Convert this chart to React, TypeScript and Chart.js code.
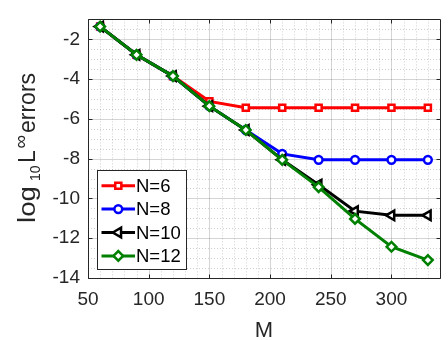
import React, { useEffect, useRef } from 'react';
import { Chart, registerables } from 'chart.js';
import { drawPoint } from 'chart.js/helpers';

Chart.register(...registerables);

// Grid size M and log10 of the max-norm error for each expansion order N
const M_VALUES = [60, 90, 120, 150, 180, 210, 240, 270, 300, 330];
const ERR_N6 = [-1.36, -2.78, -3.85, -5.12, -5.44, -5.44, -5.44, -5.44, -5.44, -5.44];
const ERR_N8 = [-1.36, -2.78, -3.85, -5.36, -6.56, -7.76, -8.06, -8.06, -8.06, -8.06];
const ERR_N10 = [-1.36, -2.78, -3.85, -5.36, -6.56, -8.06, -9.31, -10.64, -10.85, -10.85];
const ERR_N12 = [-1.36, -2.78, -3.85, -5.36, -6.56, -8.06, -9.43, -11.03, -12.43, -13.1];

const SERIES_LABELS = ['N=6', 'N=8', 'N=10', 'N=12'];
const X_TICKS = [50, 100, 150, 200, 250, 300];
const Y_TICKS = [-14, -12, -10, -8, -6, -4, -2];
const X_RANGE = [50, 340];
const Y_RANGE = [-14, -1];
const X_MINOR_STEP = 10;
const Y_MINOR_STEP = 0.5;

const FONT = '"Liberation Sans", Arial, Helvetica, sans-serif';
const AXIS_COLOR = '#262626';

type Marker = { style: string; radius: number; rotation: number };
const SERIES_STYLE: { color: string; marker: Marker }[] = [
  { color: '#ff0000', marker: { style: 'rect', radius: 4.3, rotation: 0 } },
  { color: '#0000ff', marker: { style: 'circle', radius: 3.9, rotation: 0 } },
  { color: '#000000', marker: { style: 'triangle', radius: 5.5, rotation: -90 } },
  { color: '#008000', marker: { style: 'rectRot', radius: 4.8, rotation: 0 } },
];
const SERIES_DATA = [ERR_N6, ERR_N8, ERR_N10, ERR_N12];

function drawText(
  ctx: CanvasRenderingContext2D,
  text: string,
  size: number,
  x: number,
  y: number,
  stretch = 1,
) {
  ctx.save();
  ctx.font = `${size}px ${FONT}`;
  ctx.translate(x, y);
  ctx.scale(stretch, 1);
  ctx.fillText(text, 0, 0);
  ctx.restore();
}

const framePlugin = {
  id: 'matlabFrame',
  beforeDatasetsDraw(chart: any) {
    const { ctx, chartArea: a, scales } = chart;
    const xs = scales.x;
    const ys = scales.y;
    ctx.save();
    ctx.lineWidth = 1;

    // dotted minor grid
    ctx.strokeStyle = 'rgba(38,38,38,0.22)';
    ctx.setLineDash([1, 2]);
    ctx.beginPath();
    const nx = Math.round((X_RANGE[1] - X_RANGE[0]) / X_MINOR_STEP);
    for (let i = 1; i < nx; i++) {
      const v = X_RANGE[0] + i * X_MINOR_STEP;
      if (X_TICKS.includes(v)) continue;
      const px = Math.round(xs.getPixelForValue(v)) + 0.5;
      ctx.moveTo(px, a.top);
      ctx.lineTo(px, a.bottom);
    }
    const ny = Math.round((Y_RANGE[1] - Y_RANGE[0]) / Y_MINOR_STEP);
    for (let i = 1; i < ny; i++) {
      const v = Y_RANGE[0] + i * Y_MINOR_STEP;
      if (Y_TICKS.includes(v)) continue;
      const py = Math.round(ys.getPixelForValue(v)) + 0.5;
      ctx.moveTo(a.left, py);
      ctx.lineTo(a.right, py);
    }
    ctx.stroke();

    // solid major grid
    ctx.setLineDash([]);
    ctx.strokeStyle = 'rgba(38,38,38,0.2)';
    ctx.beginPath();
    X_TICKS.forEach((v) => {
      const px = Math.round(xs.getPixelForValue(v)) + 0.5;
      ctx.moveTo(px, a.top);
      ctx.lineTo(px, a.bottom);
    });
    Y_TICKS.forEach((v) => {
      const py = Math.round(ys.getPixelForValue(v)) + 0.5;
      ctx.moveTo(a.left, py);
      ctx.lineTo(a.right, py);
    });
    ctx.stroke();
    ctx.restore();
  },
  afterDatasetsDraw(chart: any) {
    const { ctx, chartArea: a, scales } = chart;
    const xs = scales.x;
    const ys = scales.y;
    const L = Math.round(a.left) + 0.5;
    const R = Math.round(a.right) + 0.5;
    const T = Math.round(a.top) + 0.5;
    const B = Math.round(a.bottom) + 0.5;
    const tick = 4;

    ctx.save();
    // axes box with inward ticks on all sides
    ctx.strokeStyle = AXIS_COLOR;
    ctx.lineWidth = 1;
    ctx.beginPath();
    ctx.rect(L, T, R - L, B - T);
    X_TICKS.forEach((v) => {
      const px = Math.round(xs.getPixelForValue(v)) + 0.5;
      ctx.moveTo(px, B);
      ctx.lineTo(px, B - tick);
      ctx.moveTo(px, T);
      ctx.lineTo(px, T + tick);
    });
    Y_TICKS.forEach((v) => {
      const py = Math.round(ys.getPixelForValue(v)) + 0.5;
      ctx.moveTo(L, py);
      ctx.lineTo(L + tick, py);
      ctx.moveTo(R, py);
      ctx.lineTo(R - tick, py);
    });
    ctx.stroke();

    // legend box
    const lx = 97.5;
    const ly = 170.5;
    const lw = 89;
    const lh = 99;
    ctx.fillStyle = '#ffffff';
    ctx.fillRect(lx, ly, lw, lh);
    ctx.strokeStyle = AXIS_COLOR;
    ctx.strokeRect(lx, ly, lw, lh);
    SERIES_LABELS.forEach((label, i) => {
      const st = SERIES_STYLE[i];
      const cy = 185.7 + i * 23.4;
      ctx.strokeStyle = st.color;
      ctx.lineWidth = 3;
      ctx.beginPath();
      ctx.moveTo(101.5, cy);
      ctx.lineTo(135, cy);
      ctx.stroke();
      ctx.fillStyle = '#ffffff';
      ctx.lineWidth = 2.5;
      drawPoint(
        ctx,
        {
          pointStyle: st.marker.style as any,
          radius: st.marker.radius,
          rotation: st.marker.rotation,
          borderWidth: 2.5,
        } as any,
        118.3,
        cy,
      );
      ctx.fillStyle = '#000000';
      ctx.textBaseline = 'middle';
      ctx.textAlign = 'left';
      ctx.font = `18.5px ${FONT}`;
      ctx.fillText(label, 136, cy + 1);
    });

    // x-axis title
    ctx.fillStyle = AXIS_COLOR;
    ctx.textAlign = 'center';
    ctx.textBaseline = 'alphabetic';
    ctx.font = `22px ${FONT}`;
    ctx.fillText('M', (a.left + a.right) / 2, 337);

    // y-axis title: log_{10} L^{\infty} errors, rotated
    ctx.save();
    ctx.translate(35, 0);
    ctx.rotate(-Math.PI / 2);
    ctx.textAlign = 'left';
    ctx.textBaseline = 'alphabetic';
    drawText(ctx, 'log', 23, -223, 0, 1.2);
    drawText(ctx, '10', 14, -181, 5);
    drawText(ctx, 'L', 23, -163, 0);
    drawText(ctx, '\u221E', 19, -148.5, -8);
    drawText(ctx, 'errors', 23, -133, 0);
    ctx.restore();

    ctx.restore();
  },
};

export default function App() {
  const canvasRef = useRef<HTMLCanvasElement | null>(null);

  useEffect(() => {
    const canvas = canvasRef.current;
    if (!canvas) return;

    const datasets = SERIES_LABELS.map((label, i) => {
      const st = SERIES_STYLE[i];
      return {
        label,
        data: M_VALUES.map((m, j) => ({ x: m, y: SERIES_DATA[i][j] })),
        borderColor: st.color,
        backgroundColor: st.color,
        borderWidth: 3,
        pointStyle: st.marker.style,
        pointRadius: st.marker.radius,
        pointRotation: st.marker.rotation,
        pointBorderWidth: 2.5,
        pointBorderColor: st.color,
        pointBackgroundColor: '#ffffff',
        tension: 0,
        clip: false as any,
        // later series drawn on top
        order: SERIES_LABELS.length - i,
      };
    });

    const chart = new Chart(canvas, {
      type: 'line',
      data: { datasets: datasets as any },
      options: {
        animation: false,
        responsive: false,
        events: [],
        layout: { padding: { left: 0, right: 2, top: 6, bottom: 0 } },
        plugins: {
          legend: { display: false },
          tooltip: { enabled: false },
        },
        scales: {
          x: {
            type: 'linear',
            min: X_RANGE[0],
            max: X_RANGE[1],
            afterBuildTicks: (scale: any) => {
              scale.ticks = X_TICKS.map((value) => ({ value }));
            },
            afterFit: (scale: any) => {
              scale.height = 62;
            },
            grid: { display: false, drawTicks: false },
            border: { display: false },
            ticks: {
              padding: 10,
              maxRotation: 0,
              autoSkip: false,
              color: AXIS_COLOR,
              font: { family: FONT, size: 19 },
              callback: (v: any) => String(v),
            },
          },
          y: {
            type: 'linear',
            min: Y_RANGE[0],
            max: Y_RANGE[1],
            afterBuildTicks: (scale: any) => {
              scale.ticks = Y_TICKS.map((value) => ({ value }));
            },
            afterFit: (scale: any) => {
              scale.width = 88;
            },
            grid: { display: false, drawTicks: false },
            border: { display: false },
            ticks: {
              padding: 8,
              autoSkip: false,
              color: AXIS_COLOR,
              font: { family: FONT, size: 19 },
              callback: (v: any) => String(v),
            },
          },
        },
      },
      plugins: [framePlugin as any],
    });

    return () => chart.destroy();
  }, []);

  return (
    <div style={{ position: 'fixed', left: 0, top: 0, width: 448, height: 340, background: '#fff' }}>
      <canvas ref={canvasRef} width={448} height={340} style={{ display: 'block' }} />
    </div>
  );
}
